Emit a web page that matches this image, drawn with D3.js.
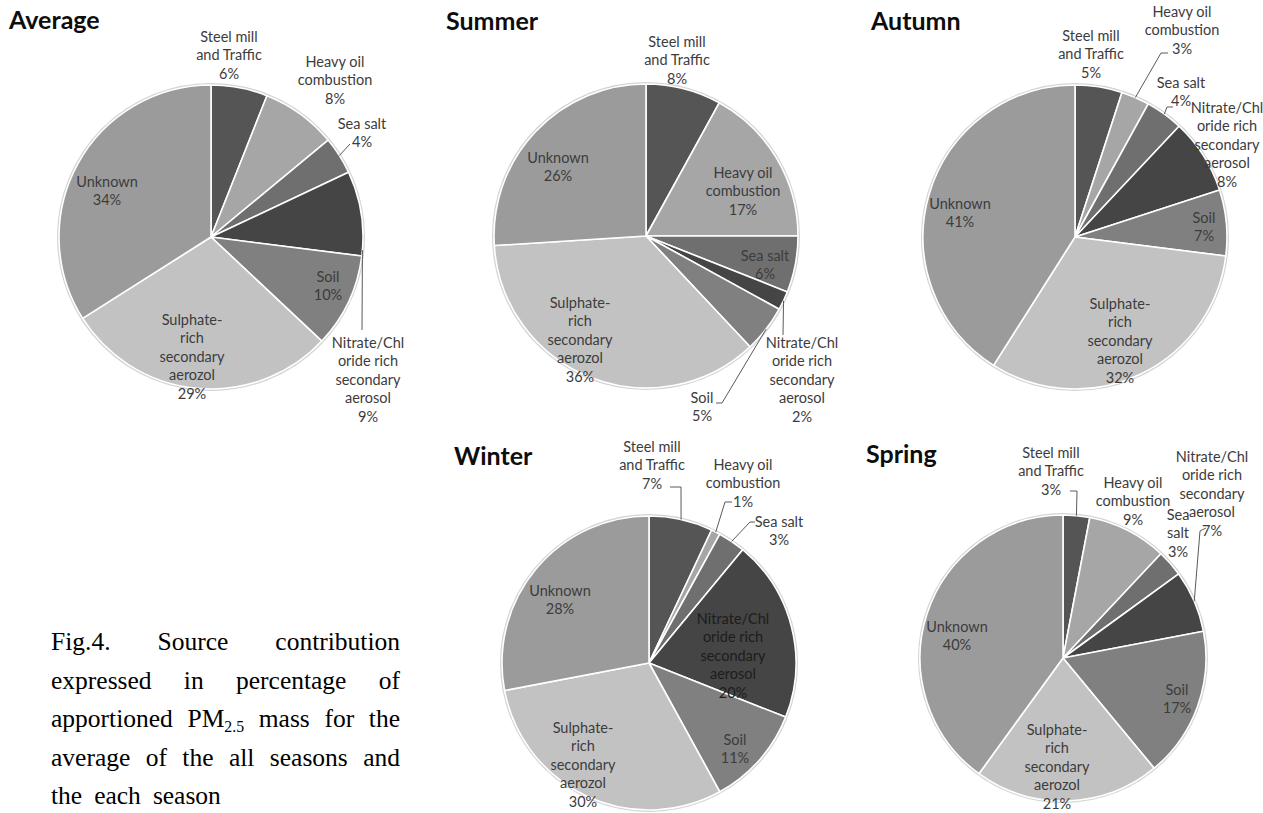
<!DOCTYPE html>
<html>
<head>
<meta charset="utf-8">
<script src="https://cdn.jsdelivr.net/npm/d3@7"></script>
<style>
  html, body { margin: 0; padding: 0; background: #ffffff; }
  svg { display: block; }
</style>
</head>
<body>
<svg id="fig" width="1263" height="813"></svg>
<script>
// Source categories (clockwise from 12 o'clock)
const sources = [
  "Steel mill and Traffic",
  "Heavy oil combustion",
  "Sea salt",
  "Nitrate/Chloride rich secondary aerosol",
  "Soil",
  "Sulphate-rich secondary aerozol",
  "Unknown"
];
const sourceLabelLines = [
  ["Steel mill", "and Traffic"],
  ["Heavy oil", "combustion"],
  ["Sea salt"],
  ["Nitrate/Chl", "oride rich", "secondary", "aerosol"],
  ["Soil"],
  ["Sulphate-", "rich", "secondary", "aerozol"],
  ["Unknown"]
];

// Panel titles
const seasons = ["Average", "Summer", "Autumn", "Winter", "Spring"];

// Source contribution (%) of apportioned PM2.5 mass
const averageShare = [6, 8, 4, 9, 10, 29, 34];
const summerShare  = [8, 17, 6, 2, 5, 36, 26];
const autumnShare  = [5, 3, 4, 8, 7, 32, 41];
const winterShare  = [7, 1, 3, 20, 11, 30, 28];
const springShare  = [3, 9, 3, 7, 17, 21, 40];
const shares = [averageShare, summerShare, autumnShare, winterShare, springShare];

// Caption
const captionLines = [
  ["Fig.4.", "Source", "contribution"],
  ["expressed", "in", "percentage", "of"],
  ["apportioned", "PM|2.5", "mass", "for", "the"],
  ["average", "of", "the", "all", "seasons", "and"],
  ["the", "each", "season"]
];

// ---- styling / layout ----
const sliceColors = ["#555555", "#a6a6a6", "#6f6f6f", "#454545", "#808080", "#c2c2c2", "#9b9b9b"];
const labelFont = "Lato, 'Open Sans', sans-serif";
const labelSize = 14.5;
const lineH = 18.4;

// Panel geometry; label anchors are the centre of the first text line, relative to the pie centre.
const panels = [
  { cx: 211, cy: 237, r: 152, tx: 9, ty: 29, labels: [
      { dx: 18, dy: -200 },
      { dx: 124, dy: -175 },
      { dx: 151, dy: -113, lead: [[139, -93]] },
      { dx: 157, dy: 106, t: 0.93, lead: [[151, 93]] },
      { dx: 117, dy: 40 },
      { dx: -19, dy: 83 },
      { dx: -104, dy: -55 } ] },
  { cx: 646, cy: 236, r: 152, tx: 446, ty: 30, labels: [
      { dx: 31, dy: -194 },
      { dx: 97, dy: -63 },
      { dx: 119, dy: 20 },
      { dx: 156, dy: 107, lead: [[137, 99]] },
      { dx: 56, dy: 162, lead: [[76, 167], [70, 167]] },
      { dx: -66, dy: 67 },
      { dx: -88, dy: -78 } ] },
  { cx: 1075, cy: 237, r: 152, tx: 871, ty: 30, labels: [
      { dx: 16, dy: -201 },
      { dx: 107, dy: -225, lead: [[86, -184], [93, -184]] },
      { dx: 106, dy: -154, lead: [[92, -130], [98, -130]] },
      { dx: 152, dy: -129 },
      { dx: 129, dy: -19 },
      { dx: 45, dy: 67 },
      { dx: -115, dy: -33 } ] },
  { cx: 649, cy: 663, r: 147, tx: 454, ty: 465, labels: [
      { dx: 3, dy: -216, lead: [[32, -176], [21, -176]] },
      { dx: 94, dy: -198, lead: [[76, -161], [83, -161]] },
      { dx: 130, dy: -141, lead: [[101, -141], [106, -141]] },
      { dx: 84, dy: -44, ink: "#1c1c1c" },
      { dx: 86, dy: 77 },
      { dx: -66, dy: 65 },
      { dx: -89, dy: -72 } ] },
  { cx: 1063, cy: 658, r: 143, tx: 866, ty: 463, labels: [
      { dx: -12, dy: -205, lead: [[14, -167], [7, -167]] },
      { dx: 70, dy: -175 },
      { dx: 115, dy: -143, lines: ["Sea", "salt"] },
      { dx: 149, dy: -201, lead: [[137, -127], [143, -130]] },
      { dx: 114, dy: 32 },
      { dx: -6, dy: 72 },
      { dx: -106, dy: -31 } ] }
];

const svg = d3.select("#fig");
const pie = d3.pie().sort(null).value(d => d);

panels.forEach((p, i) => {
  const data = shares[i];
  const arcs = pie(data);
  const arc = d3.arc().innerRadius(0).outerRadius(p.r);
  const g = svg.append("g").attr("transform", `translate(${p.cx},${p.cy})`);

  // soft rim around the pie
  g.append("circle").attr("r", p.r + 1)
    .attr("fill", "none").attr("stroke", "#d4d4d4").attr("stroke-width", 2);

  g.selectAll("path.slice").data(arcs).join("path")
    .attr("class", "slice")
    .attr("d", arc)
    .attr("fill", (d, k) => sliceColors[k])
    .attr("stroke", "#ffffff")
    .attr("stroke-width", 1.6)
    .attr("stroke-linejoin", "round");

  // leader lines
  arcs.forEach((d, k) => {
    const L = p.labels[k];
    if (!L.lead) return;
    const t = L.t == null ? 0.5 : L.t;
    const a = d.startAngle + t * (d.endAngle - d.startAngle);
    const start = [p.r * Math.sin(a), -p.r * Math.cos(a)];
    g.append("path")
      .attr("d", d3.line()([start, ...L.lead]))
      .attr("fill", "none")
      .attr("stroke", "#5a5a5a")
      .attr("stroke-width", 1);
  });

  // labels
  arcs.forEach((d, k) => {
    const L = p.labels[k];
    const lines = (L.lines || sourceLabelLines[k]).concat([d.data + "%"]);
    const txt = g.append("text")
      .attr("font-family", labelFont)
      .attr("font-size", labelSize)
      .attr("fill", L.ink || "#3c3c3c")
      .attr("text-anchor", "middle");
    lines.forEach((s, j) => {
      txt.append("tspan")
        .attr("x", L.dx)
        .attr("y", L.dy + j * lineH)
        .attr("dy", "0.35em")
        .text(s);
    });
  });

  // title
  svg.append("text")
    .attr("x", p.tx).attr("y", p.ty)
    .attr("font-family", labelFont)
    .attr("font-weight", 700)
    .attr("font-size", 25)
    .attr("fill", "#0d0d0d")
    .text(seasons[i]);
});

// caption, justified between two edges
const capLeft = 51, capRight = 400, capTop = 650, capStep = 38.5;
const capFont = "'Liberation Serif', 'Times New Roman', serif";
const capSize = 25.5;
captionLines.forEach((words, li) => {
  const y = capTop + li * capStep;
  const nodes = words.map(w => {
    const t = svg.append("text")
      .attr("y", y)
      .attr("font-family", capFont)
      .attr("font-size", capSize)
      .attr("fill", "#000000");
    if (w.includes("|")) {
      const [base, sub] = w.split("|");
      t.append("tspan").text(base);
      t.append("tspan").attr("font-size", capSize * 0.62).attr("dy", 5).text(sub);
    } else {
      t.text(w);
    }
    return t;
  });
  const widths = nodes.map(n => n.node().getComputedTextLength());
  const total = d3.sum(widths);
  const last = li === captionLines.length - 1;
  const gap = last ? 12 : (capRight - capLeft - total) / (words.length - 1);
  let x = capLeft;
  nodes.forEach((n, k) => {
    n.attr("x", x);
    n.selectAll("tspan").filter((d, idx) => idx === 0).attr("x", x);
    x += widths[k] + gap;
  });
});
</script>
</body>
</html>
